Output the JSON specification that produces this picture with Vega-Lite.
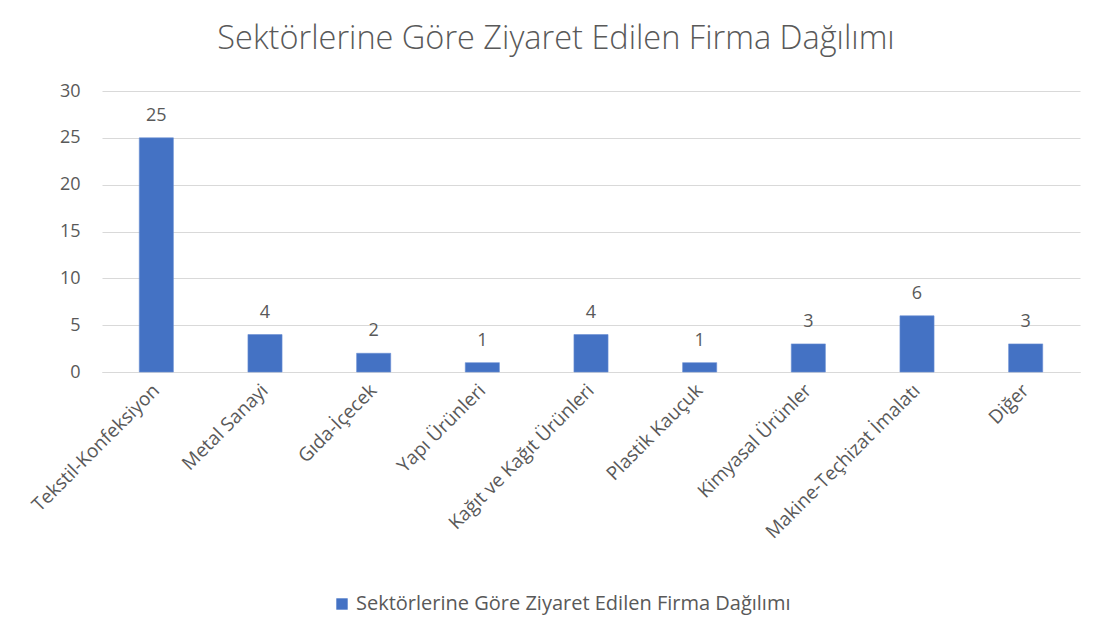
{
  "$schema": "https://vega.github.io/schema/vega-lite/v6.json",
  "width": 978,
  "height": 281,
  "autosize": "none",
  "padding": {"left": 102, "top": 91, "right": 24, "bottom": 267},
  "background": "white",
  "title": {
    "text": "Sektörlerine Göre Ziyaret Edilen Firma Dağılımı",
    "anchor": "middle",
    "frame": "group",
    "dx": -35,
    "offset": 27,
    "font": "Open Sans",
    "fontSize": 32.5,
    "fontWeight": 300,
    "color": "#595959"
  },
  "data": {
    "values": [
      {"sektor": "Tekstil-Konfeksiyon", "sayi": 25},
      {"sektor": "Metal Sanayi", "sayi": 4},
      {"sektor": "Gıda-İçecek", "sayi": 2},
      {"sektor": "Yapı Ürünleri", "sayi": 1},
      {"sektor": "Kağıt ve Kağıt Ürünleri", "sayi": 4},
      {"sektor": "Plastik Kauçuk", "sayi": 1},
      {"sektor": "Kimyasal Ürünler", "sayi": 3},
      {"sektor": "Makine-Teçhizat İmalatı", "sayi": 6},
      {"sektor": "Diğer", "sayi": 3}
    ]
  },
  "encoding": {
    "x": {
      "field": "sektor",
      "type": "nominal",
      "sort": null,
      "scale": {"paddingInner": 0.686, "paddingOuter": 0.343},
      "axis": {
        "title": null,
        "labelAngle": -45,
        "labelAlign": "right",
        "labelBaseline": "middle",
        "labelPadding": 15,
        "ticks": false,
        "domain": true,
        "domainColor": "#D9D9D9",
        "domainWidth": 1,
        "labelFont": "Open Sans",
        "labelFontSize": 19,
        "labelColor": "#595959",
        "labelLimit": 400
      }
    },
    "y": {
      "field": "sayi",
      "type": "quantitative",
      "scale": {"domain": [0, 30]},
      "axis": {
        "title": null,
        "values": [0, 5, 10, 15, 20, 25, 30],
        "grid": true,
        "gridColor": "#D9D9D9",
        "gridWidth": 1,
        "domain": false,
        "ticks": false,
        "labelPadding": 22,
        "labelFont": "Open Sans",
        "labelFontSize": 18,
        "labelColor": "#595959"
      }
    }
  },
  "layer": [
    {
      "mark": {"type": "bar", "stroke": "#6A8ED3", "strokeWidth": 0.6},
      "encoding": {
        "color": {
          "datum": "Sektörlerine Göre Ziyaret Edilen Firma Dağılımı",
          "type": "nominal",
          "scale": {"range": ["#4472C4"]},
          "legend": {
            "title": null,
            "orient": "none",
            "legendX": 230,
            "legendY": 503,
            "padding": 0,
            "symbolType": "square",
            "symbolSize": 130,
            "symbolStrokeWidth": 0,
            "labelFont": "Open Sans",
            "labelFontSize": 20,
            "labelColor": "#595959",
            "labelOffset": 4,
            "labelLimit": 600
          }
        }
      }
    },
    {
      "mark": {
        "type": "text",
        "baseline": "alphabetic",
        "dy": -17,
        "font": "Open Sans",
        "fontSize": 18,
        "color": "#595959"
      },
      "encoding": {"text": {"field": "sayi", "type": "quantitative"}}
    }
  ],
  "config": {"view": {"stroke": null}}
}
